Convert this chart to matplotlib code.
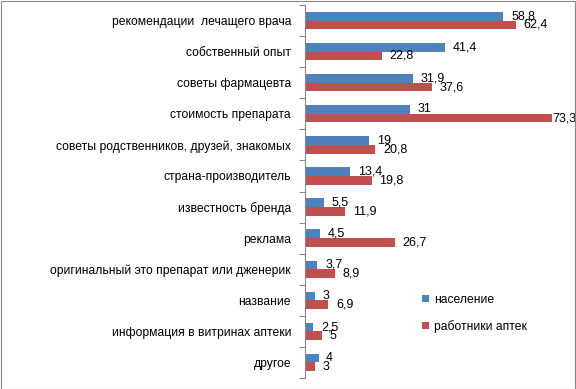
import matplotlib
matplotlib.use("Agg")
import matplotlib.pyplot as plt
import numpy as np
from matplotlib.patches import Rectangle

categories = [
    "рекомендации  лечащего врача",
    "собственный опыт",
    "советы фармацевта",
    "стоимость препарата",
    "советы родственников, друзей, знакомых",
    "страна-производитель",
    "известность бренда",
    "реклама",
    "оригинальный это препарат или дженерик",
    "название",
    "информация в витринах аптеки",
    "другое",
]
naselenie = [58.8, 41.4, 31.9, 31, 19, 13.4, 5.5, 4.5, 3.7, 3, 2.5, 4]
rabotniki = [62.4, 22.8, 37.6, 73.3, 20.8, 19.8, 11.9, 26.7, 8.9, 6.9, 5, 3]
series_names = ["население", "работники аптек"]

blue = "#4F81BD"
red = "#C0504D"
plt.rcParams['font.family'] = ['Liberation Sans', 'DejaVu Sans']

fig = plt.figure(figsize=(5.76, 3.89), dpi=100)
ax = fig.add_axes([305/576, 11/389, 270/576, 373/389])

n = len(categories)
y = np.arange(n)
h = 0.28
ax.barh(y - h/2, naselenie, height=h, color=blue, label=series_names[0])
ax.barh(y + h/2, rabotniki, height=h, color=red, label=series_names[1])

xmax = 80

def fmt(v):
    return ("%g" % v).replace(".", ",")

for i in range(n):
    ax.annotate(fmt(naselenie[i]), (naselenie[i], y[i] - h/2), xytext=(5.5, 0),
                textcoords="offset points", va="center", ha="left", fontsize=9)
    off = 5.5 if rabotniki[i] < 0.9 * xmax else 0
    ax.annotate(fmt(rabotniki[i]), (rabotniki[i], y[i] + h/2), xytext=(off, 0),
                textcoords="offset points", va="center", ha="left", fontsize=9,
                annotation_clip=False)

ax.set_xlim(0, xmax)
ax.set_ylim(n - 0.5, -0.5)
ax.set_yticks(y)
ax.set_yticklabels(categories, fontsize=8.7)
ax.set_yticks(np.arange(n + 1) - 0.5, minor=True)
ax.tick_params(axis='y', which='major', length=0, pad=10)
ax.tick_params(axis='y', which='minor', length=4, color='#888888', width=0.8)
ax.set_xticks([])
for s in ['top', 'right', 'bottom']:
    ax.spines[s].set_visible(False)
ax.spines['left'].set_color('#888888')
ax.spines['left'].set_linewidth(0.8)

leg = fig.legend(loc='upper left', bbox_to_anchor=(411/576, 1 - 283/389),
                 frameon=False, fontsize=8.7, handlelength=0.6, handleheight=0.6,
                 labelspacing=1.15, handletextpad=0.4)

fig.patches.append(Rectangle((0.5/576, 0.5/389), 1 - 1.5/576, 1 - 1.5/389,
                             transform=fig.transFigure, fill=False,
                             edgecolor='#888888', linewidth=0.8))

fig.savefig("out.png", dpi=100)
